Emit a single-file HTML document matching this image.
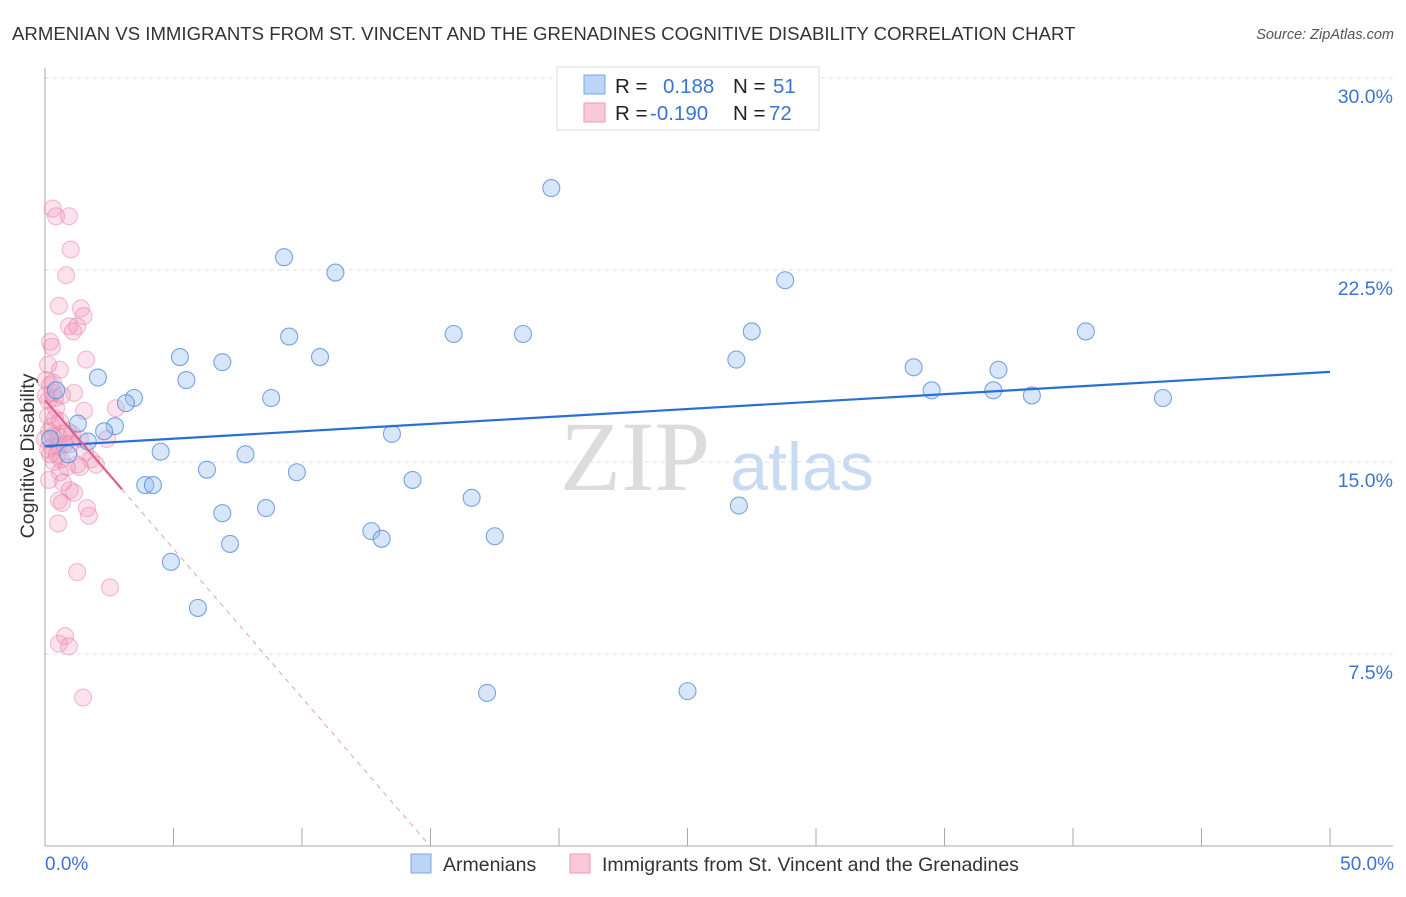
<!DOCTYPE html>
<html><head><meta charset="utf-8"><style>
body{margin:0;background:#fff;font-family:"Liberation Sans",sans-serif;}
</style></head><body>
<svg width="1406" height="892" id="c" style="font-family:'Liberation Sans',sans-serif">
<text x="12" y="40" font-size="18.6" fill="#333">ARMENIAN VS IMMIGRANTS FROM ST. VINCENT AND THE GRENADINES COGNITIVE DISABILITY CORRELATION CHART</text>
<text x="1394" y="39" font-size="14.5" fill="#555" font-style="italic" text-anchor="end">Source: ZipAtlas.com</text>
<text x="635" y="490" font-size="100" fill="#dcdcdc" text-anchor="middle" style="font-family:'Liberation Serif',serif">ZIP</text>
<text x="802" y="490" font-size="68" fill="#c8dbf2" text-anchor="middle">atlas</text>
<g id="grid"></g>
<g id="axes"></g>
<g id="pts"></g>
<g id="lines"></g>
<text x="34" y="456" font-size="19.5" fill="#333" text-anchor="middle" transform="rotate(-90 34 456)">Cognitive Disability</text>
<text x="45" y="870" font-size="19" fill="#3b74d0">0.0%</text>
<text x="1394" y="870" font-size="19" fill="#3b74d0" text-anchor="end">50.0%</text>
<g>
<rect x="557" y="67" width="262" height="63" fill="#fff" stroke="#ddd"/>
<rect x="584" y="75" width="21" height="19" fill="#bcd4f5" stroke="#7aa6e3"/>
<rect x="584" y="103" width="21" height="19" fill="#f9c9d8" stroke="#ec9ab6"/>
<text x="615" y="93" font-size="20.5" fill="#222">R =</text>
<text x="663" y="93" font-size="20.5" fill="#3b74d0">0.188</text>
<text x="733" y="93" font-size="20.5" fill="#222">N =</text>
<text x="773" y="93" font-size="20.5" fill="#3b74d0">51</text>
<text x="615" y="120" font-size="20.5" fill="#222">R =</text>
<text x="650" y="120" font-size="20.5" fill="#3b74d0">-0.190</text>
<text x="733" y="120" font-size="20.5" fill="#222">N =</text>
<text x="769" y="120" font-size="20.5" fill="#3b74d0">72</text>
</g>
<g>
<rect x="411" y="854" width="20" height="19" fill="#bcd4f5" stroke="#7aa6e3"/>
<text x="443" y="871" font-size="19.5" fill="#333">Armenians</text>
<rect x="570" y="854" width="20" height="19" fill="#f9c9d8" stroke="#ec9ab6"/>
<text x="602" y="871" font-size="19.5" fill="#333">Immigrants from St. Vincent and the Grenadines</text>
</g>
</svg>
<script>
const yTicks=[7.5,15,22.5,30];
const yTickLabels=["7.5%","15.0%","22.5%","30.0%"];
const blueX=[19.7,9.3,11.3,28.8,9.5,15.9,18.6,27.5,40.5,5.25,10.7,6.9,26.9,33.8,37.1,2.06,5.5,34.5,36.9,38.4,43.5,3.46,8.8,3.15,2.72,2.3,13.5,0.43,1.28,1.67,4.5,7.8,6.3,9.8,14.3,3.9,4.2,16.6,27.0,8.6,6.9,12.7,13.1,17.5,7.2,4.9,5.95,17.2,25.0,0.9,0.2];
const blueY=[25.7,23.0,22.4,22.1,19.9,20.0,20.0,20.1,20.1,19.1,19.1,18.9,19.0,18.7,18.6,18.3,18.2,17.8,17.8,17.6,17.5,17.5,17.5,17.3,16.4,16.2,16.1,17.8,16.5,15.8,15.4,15.3,14.7,14.6,14.3,14.1,14.1,13.6,13.3,13.2,13.0,12.3,12.0,12.1,11.8,11.1,9.3,5.98,6.05,15.3,15.9];
const pinkX=[0.3,0.43,0.93,1.0,0.82,0.54,1.4,1.5,1.25,0.93,1.09,0.2,0.27,1.6,0.58,0.04,0.2,0.31,1.13,0.39,0.12,0.43,1.52,2.76,0.58,0.89,0.16,0.31,0.51,0.74,1.05,1.36,2.41,0.27,0.54,0.97,0.12,0.62,0.35,1.79,1.25,1.36,1.98,0.58,0.16,0.97,1.13,0.54,0.66,1.63,1.71,0.51,1.25,2.53,0.78,0.54,0.93,1.48,0.12,0.27,0.04,0.66,0.2,0.47,0.78,0.0,0.39,0.86,0.7,1.56,0.31,0.12];
const pinkY=[24.9,24.6,24.6,23.3,22.3,21.1,21.0,20.7,20.3,20.3,20.1,19.7,19.5,19.0,18.6,18.2,18.0,18.1,17.7,17.5,17.4,17.1,17.0,17.1,16.6,16.2,16.2,16.0,16.0,16.1,16.1,15.9,15.9,15.6,15.6,15.7,15.5,15.1,15.0,15.1,14.9,14.8,14.9,14.6,14.3,13.9,13.8,13.5,13.4,13.2,12.9,12.6,10.7,10.1,8.2,7.9,7.8,5.8,16.8,16.4,17.6,17.6,15.3,15.3,15.7,15.9,16.7,14.8,14.2,15.4,17.7,18.8];
const blueLine=[15.62,18.52];
const pinkLine=[17.42,-1.163];
const pinkSolidEnd=3.0;
const X=v=>45+v/50*1285, Y=v=>846-v/30*768;
const NS="http://www.w3.org/2000/svg";
function mk(t,a,p){const e=document.createElementNS(NS,t);for(const k in a)e.setAttribute(k,a[k]);p.appendChild(e);return e;}
const grid=document.getElementById('grid'),axes=document.getElementById('axes'),pts=document.getElementById('pts'),lines=document.getElementById('lines');
yTicks.forEach((t,i)=>{
 const l=mk('line',{x1:45,x2:1393,y1:Y(t),y2:Y(t),stroke:'#ddd','stroke-dasharray':'4,4'},grid);
 
 
 const tx=mk('text',{x:1393,y:Y(t)+25,'font-size':19.5,fill:'#3b74d0','text-anchor':'end'},grid);
 tx.textContent=yTickLabels[i];
 
 
});
const ya=mk('line',{x1:45,x2:45,y1:68,y2:846,stroke:'#aaa'},axes);


const xa=mk('line',{x1:45,x2:1393,y1:846,y2:846,stroke:'#aaa'},axes);


for(let v=0;v<=50;v+=5){const t=mk('line',{x1:X(v),x2:X(v),y1:828,y2:846,stroke:'#aaa'},axes);
 
 }
pinkX.forEach((x,i)=>{const c=mk('circle',{cx:X(x),cy:Y(pinkY[i]),r:8.5,fill:'rgba(242,150,185,0.28)',stroke:'rgba(230,130,165,0.5)','stroke-width':1.1},pts);
 
 });
blueX.forEach((x,i)=>{const c=mk('circle',{cx:X(x),cy:Y(blueY[i]),r:8.5,fill:'rgba(150,190,240,0.38)',stroke:'rgba(70,130,215,0.7)','stroke-width':1.1},pts);
 
 });
const bl=mk('line',{x1:X(0),y1:Y(blueLine[0]),x2:X(50),y2:Y(blueLine[1]),stroke:'#2a6fd6','stroke-width':2.2},lines);


const pf=x=>pinkLine[0]+pinkLine[1]*x;
const ps=mk('line',{x1:X(0),y1:Y(pf(0)),x2:X(pinkSolidEnd),y2:Y(pf(pinkSolidEnd)),stroke:'#e0608e','stroke-width':2.2},lines);


const xe=-pinkLine[0]/pinkLine[1];
const pd=mk('line',{x1:X(pinkSolidEnd),y1:Y(pf(pinkSolidEnd)),x2:X(xe),y2:Y(0),stroke:'#e8a0b8','stroke-width':1,'stroke-dasharray':'5,5'},lines);


</script>
</body></html>
